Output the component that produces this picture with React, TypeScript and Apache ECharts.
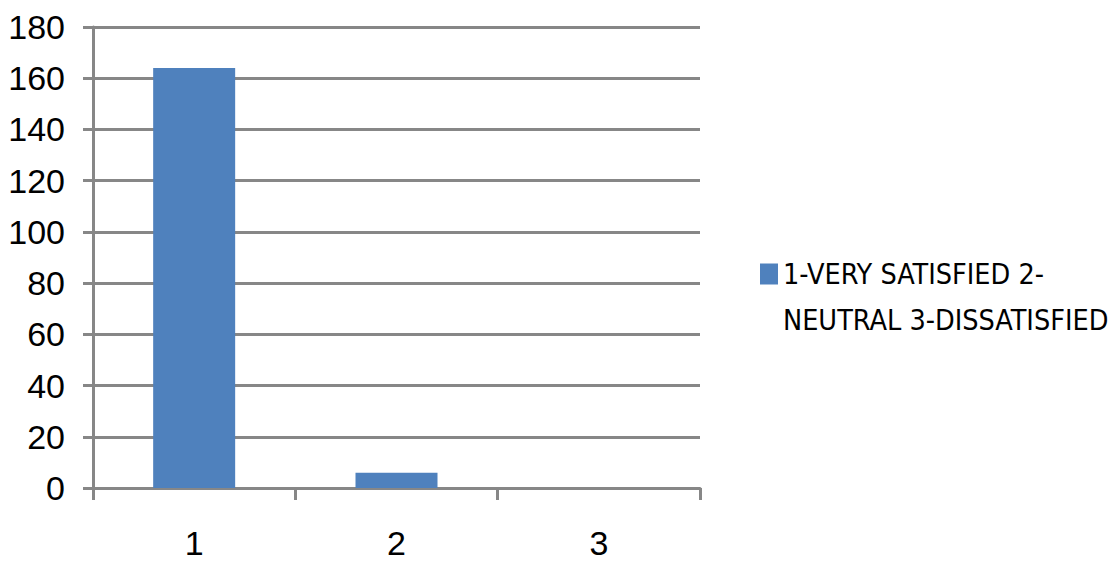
import React, { useEffect, useRef } from "react";
import * as echarts from "echarts";

const categories = ["1", "2", "3"];
const seriesName = "1-VERY SATISFIED 2-NEUTRAL 3-DISSATISFIED";
const values = [164, 6, 0];
const yTicks = { min: 0, max: 180, interval: 20 };

const GRAY = "#878787";
const FONT = "'Liberation Sans', Arial, sans-serif";
const NARROW = "'Liberation Sans Narrow', 'Arial Narrow', 'DejaVu Sans Condensed', sans-serif";

export default function App() {
  const ref = useRef<HTMLDivElement>(null);
  useEffect(() => {
    const chart = echarts.init(ref.current!, null, { renderer: "svg" });
    chart.setOption({
      animation: false,
      backgroundColor: "#fff",
      grid: { left: 93, right: 419, top: 27, bottom: 75, containLabel: false },
      legend: {
        show: true,
        orient: "vertical",
        left: 755,
        top: 200,
        itemWidth: 18,
        itemHeight: 21,
        itemGap: 0,
        icon: "rect",
        formatter: (n: string) => "\n" + n.replace("2-", "2-\n"),
        textStyle: {
          fontFamily: NARROW,
          fontSize: 28.5,
          lineHeight: 46,
          color: "#000",
        },
      },
      xAxis: {
        type: "category",
        data: categories,
        axisLine: { lineStyle: { color: GRAY, width: 3 } },
        axisTick: { show: true, length: 12, lineStyle: { color: GRAY, width: 3 } },
        axisLabel: { fontFamily: FONT, fontSize: 34, color: "#000", margin: 38 },
        splitLine: { show: false },
      },
      yAxis: {
        type: "value",
        min: yTicks.min,
        max: yTicks.max,
        interval: yTicks.interval,
        axisLine: { show: true, lineStyle: { color: GRAY, width: 3 } },
        axisTick: { show: true, length: 10, lineStyle: { color: GRAY, width: 3 } },
        axisLabel: { fontFamily: FONT, fontSize: 34, color: "#000", margin: 28 },
        splitLine: { show: true, lineStyle: { color: GRAY, width: 3 } },
      },
      series: [
        {
          name: seriesName,
          type: "bar",
          data: values,
          barWidth: 82,
          itemStyle: { color: "#4F81BD" },
        },
      ],
    });
    return () => chart.dispose();
  }, []);
  return <div ref={ref} style={{ width: 1119, height: 563, position: "absolute", left: 0, top: 0 }} />;
}
